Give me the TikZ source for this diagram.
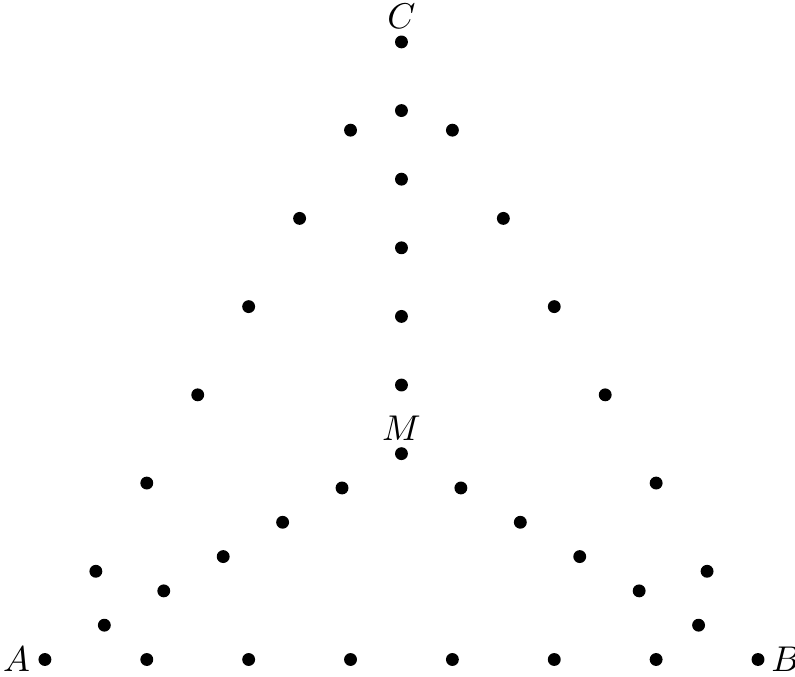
\documentclass[tikz,border=0pt]{standalone}
\usepackage{tikz}
\usetikzlibrary{calc,positioning}
\tikzset{
  pt/.style  = {circle, fill=black, inner sep=0pt, minimum size=3.6pt},
  lbl/.style = {inner sep=1.5pt},
}
\begin{document}
\begin{tikzpicture}[x=1cm,y=1cm]
\useasboundingbox (-0.441,-0.167) rectangle (7.363,6.474);

% --- corners and centre
\node[pt] (a) at (0,0) {};
\node[pt] (b) at (7,0) {};
\node[pt] (c) at (3.5,6.0622) {};
\node[pt] (m) at (3.5,2.0207) {};

% --- points on the sides
\foreach \i in {1,...,6} {
  \node[pt] (ab\i) at ($(a)!\i/7!(b)$) {};
  \node[pt] (ac\i) at ($(a)!\i/7!(c)$) {};
  \node[pt] (bc\i) at ($(b)!\i/7!(c)$) {};
}

% --- points towards the centre
\foreach \i in {1,...,5} {
  \node[pt] (am\i) at ($(a)!\i/6!(m)$) {};
  \node[pt] (bm\i) at ($(b)!\i/6!(m)$) {};
  \node[pt] (cm\i) at ($(c)!\i/6!(m)$) {};
}

% --- labels
\node[lbl, left=0.5pt of a] {$A$};
\node[lbl, right=0pt of b] {$B$};
\node[lbl, above=0pt of c] {$C$};
\node[lbl, above=0pt of m] {$M$};

\end{tikzpicture}
\end{document}
